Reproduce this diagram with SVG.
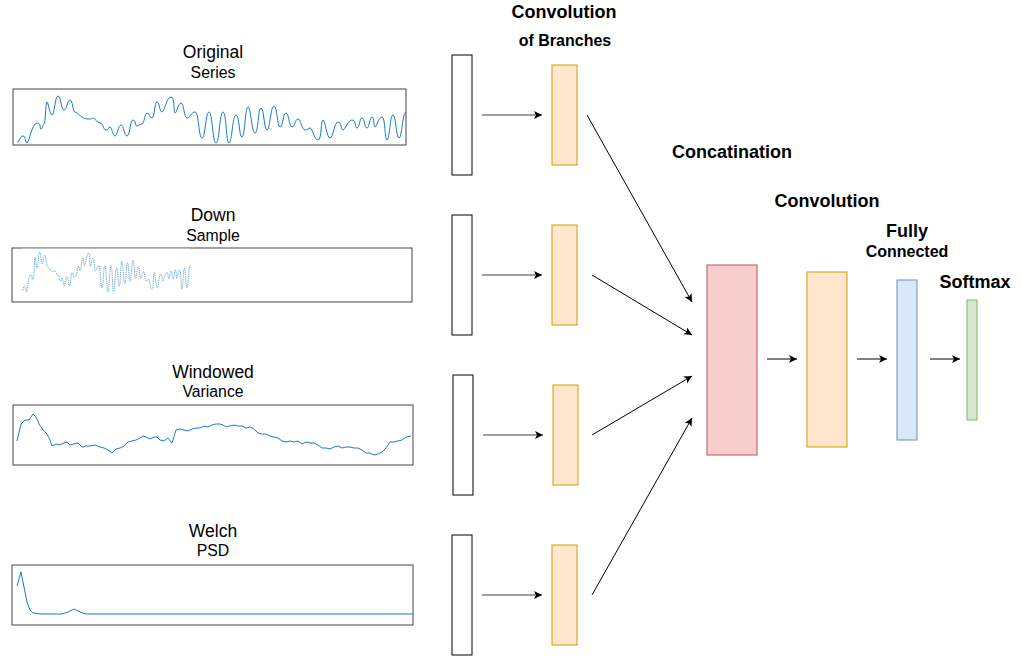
<svg xmlns="http://www.w3.org/2000/svg" width="1021" height="666" viewBox="0 0 1021 666">
<defs>
<style>
.t{font-family:"Liberation Sans",Arial,sans-serif;fill:#000;text-anchor:middle}
.h{font-size:17.5px}
.s{font-size:15.8px}
.hb{font-size:18px;font-weight:bold}
.sb{font-size:16px;font-weight:bold}
.plot{fill:#fff;stroke:#444;stroke-width:1}
.sig{fill:none;stroke:#1a7ac4;stroke-width:1;stroke-linejoin:round}
.in{fill:#fff;stroke:#000;stroke-width:1}
.br{fill:#ffe6cc;stroke:#d79b00;stroke-width:1}
.e{stroke:#000;stroke-width:1;fill:none;marker-end:url(#a)}
.g{stroke:#7f7f7f;stroke-width:1.5;fill:none;marker-end:url(#a)}
</style>
<marker id="a" markerUnits="userSpaceOnUse" markerWidth="10" markerHeight="10" refX="8" refY="4" orient="auto">
<path d="M0,0 L8,4 L0,8 L2,4 z" fill="#000"/>
</marker>
<path id="orig" d="M17,142 C20,142 20,136 23,136 S25,143 27,143 S32,123 37,123 S39,129 41,129 S42.5,124 44,124 S45.5,102 47,102 S49.5,115 52,115 S55,96 58,96 S61,110 64,110 S67,100 70,100 S72.5,112 75,112 S81.5,119 88,119 S90.5,118 93,118 S96.5,123 100,123 S103,130 106,130 S108,127 110,127 S112.5,136 115,136 S118,125 121,125 S124,136 127,136 S130,120 133,120 S135,126 137,126 S139.5,124 142,124 S144.5,113 147,113 S149.5,118 152,118 S154.5,102 157,102 S159.5,112 162,112 S166.5,97 171,97 S173,113 175,113 S178,103 181,103 S184,118 187,118 S191,112 195,112 S198.5,138 202,138 S205.5,112 209,112 S212.5,143 216,143 S219.5,112 223,112 S226,143 229,143 S232.5,115 236,115 S239,137 242,137 S245,107 248,107 S251.5,133 255,133 S258,108 261,108 S264,130 267,130 S270.5,106 274,106 S277,127 280,127 S283,113 286,113 S289,127 292,127 S295,119 298,119 S301.5,130 305,130 S307.5,128 310,128 S314,140 318,140 S320.5,120 323,120 S326.5,138 330,138 S334,122 338,122 S340.5,130 343,130 S347.5,120 352,120 S354.5,128 357,128 S359.5,118 362,118 S364.5,128 367,128 S369.5,117 372,117 S373.5,127 375,127 S378.5,117 382,117 S384.5,140 387,140 S390,115 393,115 S396,138 399,138 S402.5,112 406,112"/>
</defs>
<rect width="1021" height="666" fill="#fff"/>

<g id="plot-original">
<text class="t h" x="213" y="58">Original</text>
<text class="t s" x="213" y="78">Series</text>
<rect class="plot" x="13" y="89" width="393" height="56"/>
<use href="#orig" class="sig"/>
</g>

<g id="plot-downsample">
<text class="t h" x="213" y="221">Down</text>
<text class="t s" x="213" y="241">Sample</text>
<rect class="plot" x="12" y="248" width="400" height="54"/>
<line x1="22" y1="248.5" x2="190" y2="248.5" stroke="#bbb" stroke-width="1"/>
<use href="#orig" class="sig" stroke="#2a8fd6" stroke-dasharray="1.5 1" vector-effect="non-scaling-stroke" transform="translate(14.66 170.4) scale(0.432 0.85)"/>
</g>

<g id="plot-variance">
<text class="t h" x="213" y="378">Windowed</text>
<text class="t s" x="213" y="397">Variance</text>
<rect class="plot" x="13" y="405" width="400" height="60"/>
<polyline class="sig" stroke="#2a85cc" points="17,441 21,424 25,420 29,420 33,414 36,417 39,424 43,430 47,434 50,440 52,446 56,444 60,445 64,443 67,442 70,445 74,444 78,443 82,447 86,446 90,446 95,445 100,447 104,448 108,450 112,453 116,449 120,448 124,446 128,442 132,441 136,440 140,438 143,436 146,437 150,439 154,437 157,437 160,440 164,441 168,438 172,443 176,430 180,429 184,430 188,431 192,429 196,428 200,428 204,426 208,427 212,425 216,424 220,424 223,425 226,427 230,426 234,425 238,426 242,426 246,428 250,427 254,429 258,433 262,434 266,434 270,436 274,437 278,438 282,441 286,442 290,441 294,442 298,441 302,444 306,442 310,443 314,443 318,445 322,448 326,448 330,449 334,447 338,446 342,448 346,447 350,447 354,448 358,448 362,450 366,453 370,453 374,455 378,454 382,452 386,448 390,442 394,442 398,441 402,440 406,437 411,436"/>
</g>

<g id="plot-welch">
<text class="t h" x="213" y="537">Welch</text>
<text class="t s" x="213" y="556">PSD</text>
<rect class="plot" x="12" y="565" width="401" height="60"/>
<polyline class="sig" stroke="#5aa9e6" points="17,586 21,572 24,587 27,602 30,610 33,613 40,614 62,614 68,612 74,609 80,612 86,614 413,614"/>
</g>

<g id="inputs">
<rect id="in1" class="in" x="452" y="55" width="20" height="120"/>
<rect id="in2" class="in" x="452" y="215" width="20" height="120"/>
<rect id="in3" class="in" x="453" y="375" width="20" height="120"/>
<rect id="in4" class="in" x="452" y="535" width="20" height="120"/>
</g>

<g id="branches">
<text class="t hb" x="564" y="18">Convolution</text>
<text class="t sb" x="565" y="46">of Branches</text>
<rect id="br1" class="br" x="552" y="65" width="25" height="100"/>
<rect id="br2" class="br" x="552" y="225" width="25" height="100"/>
<rect id="br3" class="br" x="553" y="385" width="25" height="100"/>
<rect id="br4" class="br" x="552" y="545" width="25" height="100"/>
</g>

<g id="concat">
<text class="t hb" x="732" y="158">Concatination</text>
<rect x="707" y="265" width="50" height="190" fill="#f8cecc" stroke="#b85450"/>
</g>

<g id="conv">
<text class="t hb" x="827" y="207">Convolution</text>
<rect x="807" y="272" width="40" height="175" fill="#ffe6cc" stroke="#d79b00"/>
</g>

<g id="fc">
<text class="t hb" x="907" y="237">Fully</text>
<text class="t sb" x="907" y="257">Connected</text>
<rect x="897" y="280" width="20" height="160" fill="#dae8fc" stroke="#6c8ebf"/>
</g>

<g id="softmax">
<text class="t hb" x="975" y="288">Softmax</text>
<rect x="967" y="300" width="10" height="120" fill="#d5e8d4" stroke="#82b366"/>
</g>

<g id="connectors">
<line class="g" x1="482" y1="115" x2="542" y2="115"/>
<line class="g" x1="482" y1="275" x2="542" y2="275"/>
<line class="g" x1="483" y1="435" x2="543" y2="435"/>
<line class="g" x1="482" y1="595" x2="542" y2="595"/>
<line class="e" x1="587" y1="115" x2="692" y2="302"/>
<line class="e" x1="592" y1="275" x2="692" y2="335"/>
<line class="e" x1="592" y1="435" x2="692" y2="376"/>
<line class="e" x1="592" y1="595" x2="692" y2="418"/>
<line class="e" x1="767" y1="359" x2="797" y2="359"/>
<line class="e" x1="857" y1="359" x2="887" y2="359"/>
<line class="e" x1="930" y1="359" x2="960" y2="359"/>
</g>
</svg>
